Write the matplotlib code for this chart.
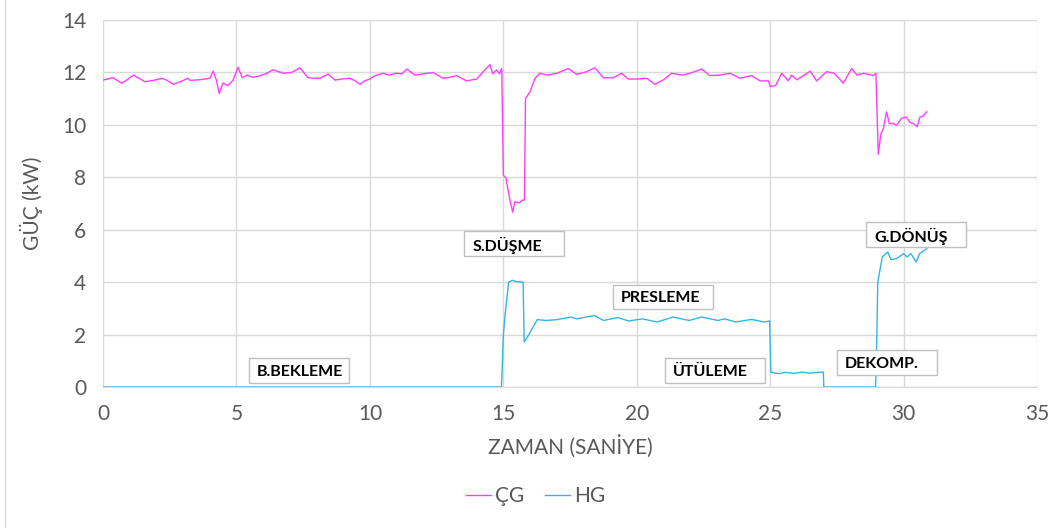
import numpy as np
import matplotlib
matplotlib.use("Agg")
import matplotlib.pyplot as plt
from matplotlib.patches import Rectangle
from matplotlib.lines import Line2D

plt.rcParams['font.family'] = ['Lato', 'DejaVu Sans']

# ÇG (cekme gucu) - okunan degerler
cg_t = [0, 0.37, 0.70, 0.9, 1.14, 1.35, 1.57, 1.9, 2.2, 2.4, 2.63, 2.9, 3.19, 3.25, 3.6,
        4.0, 4.13, 4.25, 4.35, 4.5, 4.67, 4.87, 5.06, 5.22, 5.4, 5.6, 5.8, 6.1, 6.37, 6.75,
        7.06, 7.38, 7.68, 7.9, 8.13, 8.43, 8.69, 9.0, 9.25, 9.45, 9.63, 9.8, 10.0, 10.2,
        10.49, 10.7, 10.99, 11.2, 11.38, 11.69, 12.0, 12.37, 12.74, 13.0, 13.25, 13.62,
        14.0, 14.31, 14.5, 14.6, 14.75, 14.85, 14.94, 15.0, 15.1, 15.19, 15.25, 15.35,
        15.43, 15.6, 15.7, 15.79, 15.83, 16.0, 16.19, 16.37, 16.65, 17.0, 17.44, 17.75,
        18.12, 18.43, 18.75, 19.13, 19.43, 19.68, 20.0, 20.37, 20.68, 21.0, 21.3, 21.7,
        22.0, 22.43, 22.74, 23.1, 23.5, 23.87, 24.3, 24.62, 24.93, 25.01, 25.2, 25.43,
        25.68, 25.8, 26.0, 26.2, 26.5, 26.74, 27.11, 27.4, 27.74, 28.05, 28.25, 28.5,
        28.87, 28.96, 29.05, 29.14, 29.24, 29.36, 29.46, 29.61, 29.73, 29.92, 30.1,
        30.23, 30.35, 30.51, 30.61, 30.72, 30.86]
cg_v = [11.71, 11.80, 11.59, 11.72, 11.90, 11.78, 11.65, 11.70, 11.78, 11.70, 11.55, 11.65,
        11.78, 11.70, 11.72, 11.78, 12.05, 11.70, 11.20, 11.60, 11.50, 11.70, 12.20, 11.80,
        11.90, 11.82, 11.85, 11.95, 12.10, 11.97, 12.00, 12.18, 11.80, 11.78, 11.78, 11.94,
        11.71, 11.76, 11.78, 11.68, 11.55, 11.68, 11.75, 11.88, 11.97, 11.90, 11.97, 11.95,
        12.13, 11.90, 11.95, 12.00, 11.78, 11.82, 11.88, 11.68, 11.75, 12.10, 12.30, 11.95,
        12.10, 11.95, 12.15, 8.09, 7.97, 7.45, 7.13, 6.67, 7.07, 7.02, 7.13, 7.13, 11.00,
        11.27, 11.78, 11.97, 11.90, 11.97, 12.15, 11.93, 12.03, 12.18, 11.80, 11.80, 11.97,
        11.75, 11.75, 11.78, 11.55, 11.72, 11.97, 11.90, 11.97, 12.13, 11.88, 11.90, 11.97,
        11.78, 11.88, 11.68, 11.68, 11.46, 11.50, 11.97, 11.68, 11.90, 11.72, 11.85, 12.05,
        11.68, 12.03, 11.97, 11.59, 12.15, 11.90, 11.97, 11.88, 11.97, 8.87, 9.62, 9.87,
        10.50, 10.06, 10.06, 9.98, 10.25, 10.30, 10.10, 10.06, 9.93, 10.30, 10.33, 10.50]

# HG (hidrolik guc)
hg_t = [0, 14.93, 15.0, 15.07, 15.2, 15.33, 15.5, 15.74, 15.78, 15.94, 16.27, 16.6, 17.0,
        17.54, 17.75, 18.42, 18.75, 19.29, 19.69, 20.22, 20.76, 21.36, 21.96, 22.43, 23.04,
        23.3, 23.7, 24.3, 24.78, 24.98, 25.02, 25.3, 25.6, 25.9, 26.2, 26.5, 26.8, 26.99,
        27.01, 28.95, 29.0, 29.03, 29.2, 29.4, 29.53, 29.73, 30.0, 30.13, 30.27, 30.47,
        30.6, 30.87]
hg_v = [0, 0, 1.97, 2.8, 4.0, 4.07, 4.02, 4.0, 1.72, 1.97, 2.57, 2.54, 2.57, 2.67, 2.6,
        2.73, 2.54, 2.65, 2.52, 2.6, 2.48, 2.67, 2.54, 2.67, 2.54, 2.6, 2.48, 2.58, 2.48,
        2.52, 0.57, 0.51, 0.56, 0.52, 0.57, 0.53, 0.56, 0.57, 0, 0, 2.16, 4.0, 4.96, 5.15,
        4.86, 4.9, 5.09, 4.96, 5.09, 4.77, 5.09, 5.28]

# faz etiketleri: (metin, kutu x, kutu y)
etiketler = [("B.BEKLEME", 5.47, 0.15),
             ("S.DÜŞME", 13.53, 5.0),
             ("PRESLEME", 19.1, 2.96),
             ("ÜTÜLEME", 21.05, 0.15),
             ("DEKOMP.", 27.5, 0.45),
             ("G.DÖNÜŞ", 28.6, 5.34)]

gri = "#595959"
grid_renk = "#D9D9D9"

fig = plt.figure(figsize=(10.59, 5.28), dpi=100)
ax = fig.add_axes([0.0973, 0.267, 0.882, 0.695])

ax.plot(cg_t, cg_v, color="#FF3DFF", lw=1.0, label="ÇG")
ax.plot(hg_t, hg_v, color="#33B5E5", lw=1.0, label="HG")

for metin, bx, by in etiketler:
    ax.add_patch(Rectangle((bx, by), 3.75, 0.95, facecolor="white", edgecolor="#BFBFBF",
                           lw=1.0, zorder=3))
    ax.text(bx + 0.3, by + 0.42, metin, fontsize=11.5, fontweight="bold", color="black",
            va="center", ha="left", zorder=4)

ax.set_xlim(0, 35)
ax.set_ylim(0, 14)
ax.set_xticks(np.arange(0, 36, 5))
ax.set_yticks(np.arange(0, 15, 2))
ax.grid(True, color=grid_renk, lw=1.0)
ax.set_axisbelow(True)
for s in ["top", "right", "left"]:
    ax.spines[s].set_visible(False)
ax.spines["bottom"].set_color(grid_renk)
ax.tick_params(length=0, labelsize=15, colors=gri, pad=12)
ax.set_xlabel("ZAMAN (SANİYE)", fontsize=15, color=gri, labelpad=8)
ax.set_ylabel("GÜÇ (kW)", fontsize=15, color=gri, labelpad=14)

fig.legend(loc="center", bbox_to_anchor=(0.506, 0.06), ncol=2, frameon=False,
           fontsize=15, handlelength=1.2, handletextpad=0.2, columnspacing=1.0,
           labelcolor=gri)

fig.add_artist(Line2D([5 / 1059, 5 / 1059], [0, 1], color=grid_renk, lw=1.0))

plt.savefig("out.png")
plt.close()
